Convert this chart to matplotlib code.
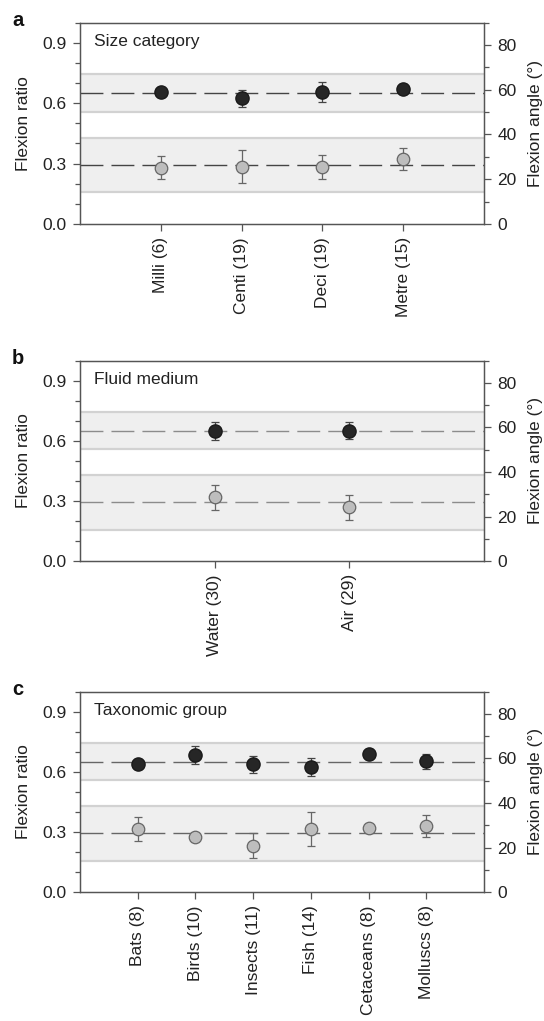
#!/usr/bin/python3

import matplotlib
matplotlib.use("Agg")
import matplotlib.pyplot as plt
from matplotlib.ticker import MultipleLocator

plt.rcParams['font.family'] = ['Liberation Sans', 'DejaVu Sans']

# panel a: size category
size_labels = ["Milli (6)", "Centi (19)", "Deci (19)", "Metre (15)"]
size_dark = [0.654, 0.624, 0.655, 0.669]
size_dark_err = [0.012, 0.043, 0.050, 0.025]
size_grey = [0.280, 0.285, 0.285, 0.323]
size_grey_err = [0.059, 0.082, 0.060, 0.053]

# panel b: fluid medium
fluid_labels = ["Water (30)", "Air (29)"]
fluid_dark = [0.648, 0.650]
fluid_dark_err = [0.044, 0.043]
fluid_grey = [0.318, 0.268]
fluid_grey_err = [0.064, 0.061]

# panel c: taxonomic group
taxon_labels = ["Bats (8)", "Birds (10)", "Insects (11)", "Fish (14)",
                "Cetaceans (8)", "Molluscs (8)"]
taxon_dark = [0.640, 0.685, 0.637, 0.625, 0.688, 0.652]
taxon_dark_err = [0.015, 0.044, 0.043, 0.046, 0.015, 0.039]
taxon_grey = [0.315, 0.275, 0.231, 0.316, 0.318, 0.330]
taxon_grey_err = [0.058, 0.020, 0.062, 0.084, 0.015, 0.054]

# overall means and spread (shaded bands)
dark_mean, dark_lo, dark_hi = 0.650, 0.558, 0.743
grey_mean, grey_lo, grey_hi = 0.293, 0.157, 0.428


def draw_panel(fig, rect, letter, title, labels, dark, dark_err, grey,
               grey_err, dash_color):
    ax = fig.add_axes(rect)
    x = list(range(1, len(labels) + 1))

    for lo, hi, mean in [(dark_lo, dark_hi, dark_mean),
                         (grey_lo, grey_hi, grey_mean)]:
        ax.axhspan(lo, hi, facecolor="#efefef", edgecolor="none", zorder=0)
        ax.axhline(lo, color="#d2d2d2", lw=1.6, zorder=0.5)
        ax.axhline(hi, color="#d2d2d2", lw=1.6, zorder=0.5)
        ax.axhline(mean, color=dash_color, lw=1.0, dashes=(16.5, 5.8),
                   zorder=1)

    ax.errorbar(x, dark, yerr=dark_err, fmt="o", color="#222222",
                mfc="#262626", mec="#1a1a1a", ms=9.5, ecolor="#444444",
                elinewidth=0.9, capsize=3, capthick=0.9, zorder=3)
    ax.errorbar(x, grey, yerr=grey_err, fmt="o", color="#999999",
                mfc="#bdbdbd", mec="#666666", mew=0.9, ms=9.0,
                ecolor="#666666", elinewidth=0.9, capsize=3, capthick=0.9,
                zorder=3)

    ax.set_xlim(0, len(labels) + 1)
    ax.set_ylim(0, 1.0)
    ax.set_xticks(x)
    ax.set_xticklabels(labels, rotation=90, fontsize=12.5, color="#222222")
    ax.set_yticks([0.0, 0.3, 0.6, 0.9])
    ax.set_yticklabels(["0.0", "0.3", "0.6", "0.9"])
    ax.yaxis.set_minor_locator(MultipleLocator(0.1))
    ax.set_ylabel("Flexion ratio", fontsize=12.5, color="#222222", labelpad=8)
    ax.tick_params(axis="both", which="major", length=5, width=0.9,
                   color="#555555", labelsize=12.5, labelcolor="#222222",
                   direction="out", pad=4.5)
    ax.tick_params(axis="y", which="minor", length=3.5, width=0.9,
                   color="#555555", direction="out")
    for sp in ax.spines.values():
        sp.set_color("#555555")
        sp.set_linewidth(0.9)

    ax.text(0.035, 0.905, title, transform=ax.transAxes, fontsize=12.5,
            va="center", ha="left", color="#222222")
    ax.text(-0.168, 1.01, letter, transform=ax.transAxes, fontsize=14.5,
            fontweight="bold", va="center", ha="left", color="#111111")

    ax2 = ax.twinx()
    ax2.set_ylim(0, 90)
    ax2.set_yticks([0, 20, 40, 60, 80])
    ax2.yaxis.set_minor_locator(MultipleLocator(10))
    ax2.set_ylabel("Flexion angle (°)", fontsize=12.5, color="#222222",
                   labelpad=8)
    ax2.tick_params(axis="y", which="major", length=5, width=0.9,
                    color="#555555", labelsize=12.5, labelcolor="#222222",
                    pad=4.5)
    ax2.tick_params(axis="y", which="minor", length=3.5, width=0.9,
                    color="#555555")
    for sp in ax2.spines.values():
        sp.set_color("#555555")
        sp.set_linewidth(0.9)
    return ax


def main():
    fig = plt.figure(figsize=(5.44, 10.21), dpi=100)
    draw_panel(fig, [0.1471, 0.7806, 0.7426, 0.1973], "a", "Size category",
               size_labels, size_dark, size_dark_err, size_grey,
               size_grey_err, "#444444")
    draw_panel(fig, [0.1471, 0.4504, 0.7426, 0.1965], "b", "Fluid medium",
               fluid_labels, fluid_dark, fluid_dark_err, fluid_grey,
               fluid_grey_err, "#8c8c8c")
    draw_panel(fig, [0.1471, 0.1262, 0.7426, 0.1965], "c", "Taxonomic group",
               taxon_labels, taxon_dark, taxon_dark_err, taxon_grey,
               taxon_grey_err, "#666666")
    fig.savefig("out.png", dpi=100)


if __name__ == "__main__":
    main()
